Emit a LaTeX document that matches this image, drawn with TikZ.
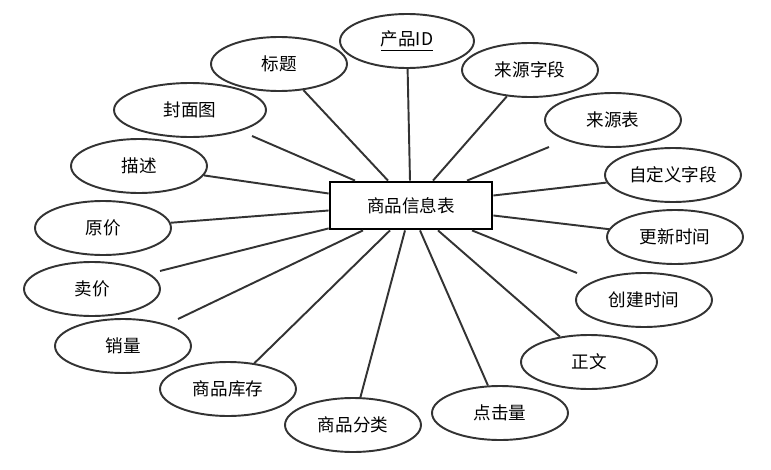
\documentclass[tikz,border=0pt]{standalone}
\usepackage{fontspec}
\setmainfont{Noto Sans CJK SC}
\usetikzlibrary{shapes.geometric,calc}

\tikzset{
attr/.style={ellipse,draw=black!80,line width=1.1pt,minimum width=2.72cm,minimum height=1.08cm,inner sep=0pt,font=\fontsize{10}{12}\selectfont},
ent/.style={rectangle,draw=black,line width=1.6pt,minimum width=3.24cm,minimum height=0.94cm,font=\fontsize{10}{12}\selectfont},
lnk/.style={draw=black!80,line width=1.1pt}
}

\begin{document}
\begin{tikzpicture}[x=0.02cm,y=-0.02cm]
\useasboundingbox (0,0) rectangle (771,470);
\path
(411,205.5) node[ent] (tbl) {商品信息表}
(407,41) node[attr,minimum width=2.68cm] (pid) {\underline{产品ID}}
(279,64) node[attr] (title) {标题}
(190,110) node[attr,minimum width=3.04cm] (cover) {封面图}
(139,166) node[attr] (desc) {描述}
(103,228) node[attr] (oprice) {原价}
(92,289) node[attr] (sprice) {卖价}
(123,346) node[attr] (sales) {销量}
(228,389) node[attr] (stock) {商品库存}
(353,425) node[attr] (cat) {商品分类}
(500,413) node[attr] (hits) {点击量}
(589,362) node[attr] (body) {正文}
(644,300) node[attr] (ctime) {创建时间}
(675,237) node[attr] (utime) {更新时间}
(673,175) node[attr] (custom) {自定义字段}
(613,120) node[attr] (srctbl) {来源表}
(530,70) node[attr] (srcfld) {来源字段};
% loose ends
\coordinate (cover-e) at (252,136);
\coordinate (srctbl-e) at (549,147);
\coordinate (sprice-e) at (160,271);
\coordinate (sales-e) at (178,319);
\coordinate (ctime-e) at (577,273);
%top
\draw[lnk] ($(tbl.north)+(-1,0)$) -- (pid);
\draw[lnk] ($(tbl.north)+(-23,0)$) -- (title);
\draw[lnk] ($(tbl.north)+(-56,0)$) -- (cover-e);
\draw[lnk] ($(tbl.north)+(22,0)$) -- (srcfld);
\draw[lnk] ($(tbl.north)+(56,0)$) -- (srctbl-e);
%left
\draw[lnk] ($(tbl.west)+(0,-12)$) -- (desc);
\draw[lnk] ($(tbl.west)+(0,5)$) -- (oprice);
\draw[lnk] ($(tbl.south west)+(0,-2)$) -- (sprice-e);
%bottom
\draw[lnk] ($(tbl.south)+(-48,0)$) -- (sales-e);
\draw[lnk] ($(tbl.south)+(-21,0)$) -- (stock);
\draw[lnk] ($(tbl.south)+(-6,0)$) -- (cat);
\draw[lnk] ($(tbl.south)+(9,0)$) -- (hits);
\draw[lnk] ($(tbl.south)+(27,0)$) -- (body);
\draw[lnk] ($(tbl.south)+(61,0)$) -- (ctime-e);
%right
\draw[lnk] ($(tbl.east)+(0,10)$) -- (utime);
\draw[lnk] ($(tbl.east)+(0,-10)$) -- (custom);
%\draw[lnk] (tbl) -- (ctime);
\end{tikzpicture}
\end{document}
